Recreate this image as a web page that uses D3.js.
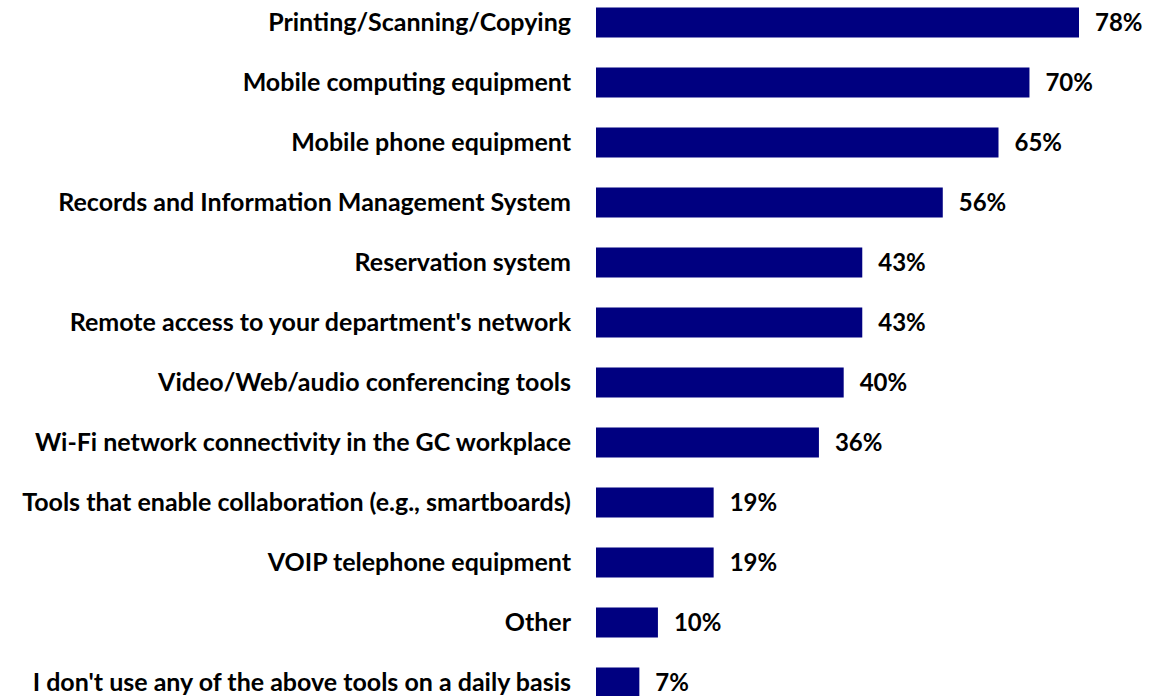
<!DOCTYPE html>
<html>
<head>
<meta charset="utf-8">
<script src="https://cdn.jsdelivr.net/npm/d3@7"></script>
<style>
  html, body { margin: 0; padding: 0; background: #ffffff; }
  svg { display: block; }
  .cat text { font-family: Lato, "Open Sans", sans-serif; font-weight: 700; font-size: 25px; fill: #000; }
  .val { font-family: Lato, "Open Sans", sans-serif; font-weight: 700; font-size: 24px; fill: #000; }
</style>
</head>
<body>
<svg id="chart" width="1151" height="696"></svg>
<script>
// Tools used on a daily basis (% of respondents)
const categories = [
  "Printing/Scanning/Copying",
  "Mobile computing equipment",
  "Mobile phone equipment",
  "Records and Information Management System",
  "Reservation system",
  "Remote access to your department's network",
  "Video/Web/audio conferencing tools",
  "Wi-Fi network connectivity in the GC workplace",
  "Tools that enable collaboration (e.g., smartboards)",
  "VOIP telephone equipment",
  "Other",
  "I don't use any of the above tools on a daily basis"
];
const values = [78, 70, 65, 56, 43, 43, 40, 36, 19, 19, 10, 7];

const svg = d3.select("#chart");
const barLeft = 596;

const x = d3.scaleLinear().domain([0, 78]).range([barLeft, 1079]);
const y = d3.scaleBand()
  .domain(categories)
  .range([-7.5, 712.5])
  .paddingInner(0.5)
  .paddingOuter(0.25);

// Bars
svg.append("g")
  .selectAll("rect")
  .data(categories)
  .join("rect")
  .attr("x", x(0))
  .attr("y", d => y(d))
  .attr("width", (d, i) => x(values[i]) - x(0))
  .attr("height", y.bandwidth())
  .attr("fill", "#000080");

// Category labels
const axis = d3.axisLeft(y).tickSize(0).tickPadding(25);
svg.append("g")
  .attr("class", "cat")
  .attr("transform", `translate(${barLeft},0)`)
  .call(axis)
  .call(g => g.select(".domain").remove());

// Value labels
svg.append("g")
  .selectAll("text")
  .data(categories)
  .join("text")
  .attr("class", "val")
  .attr("x", (d, i) => x(values[i]) + 16)
  .attr("y", d => y(d) + y.bandwidth() / 2)
  .attr("dy", "0.36em")
  .text((d, i) => values[i] + "%");
</script>
</body>
</html>
